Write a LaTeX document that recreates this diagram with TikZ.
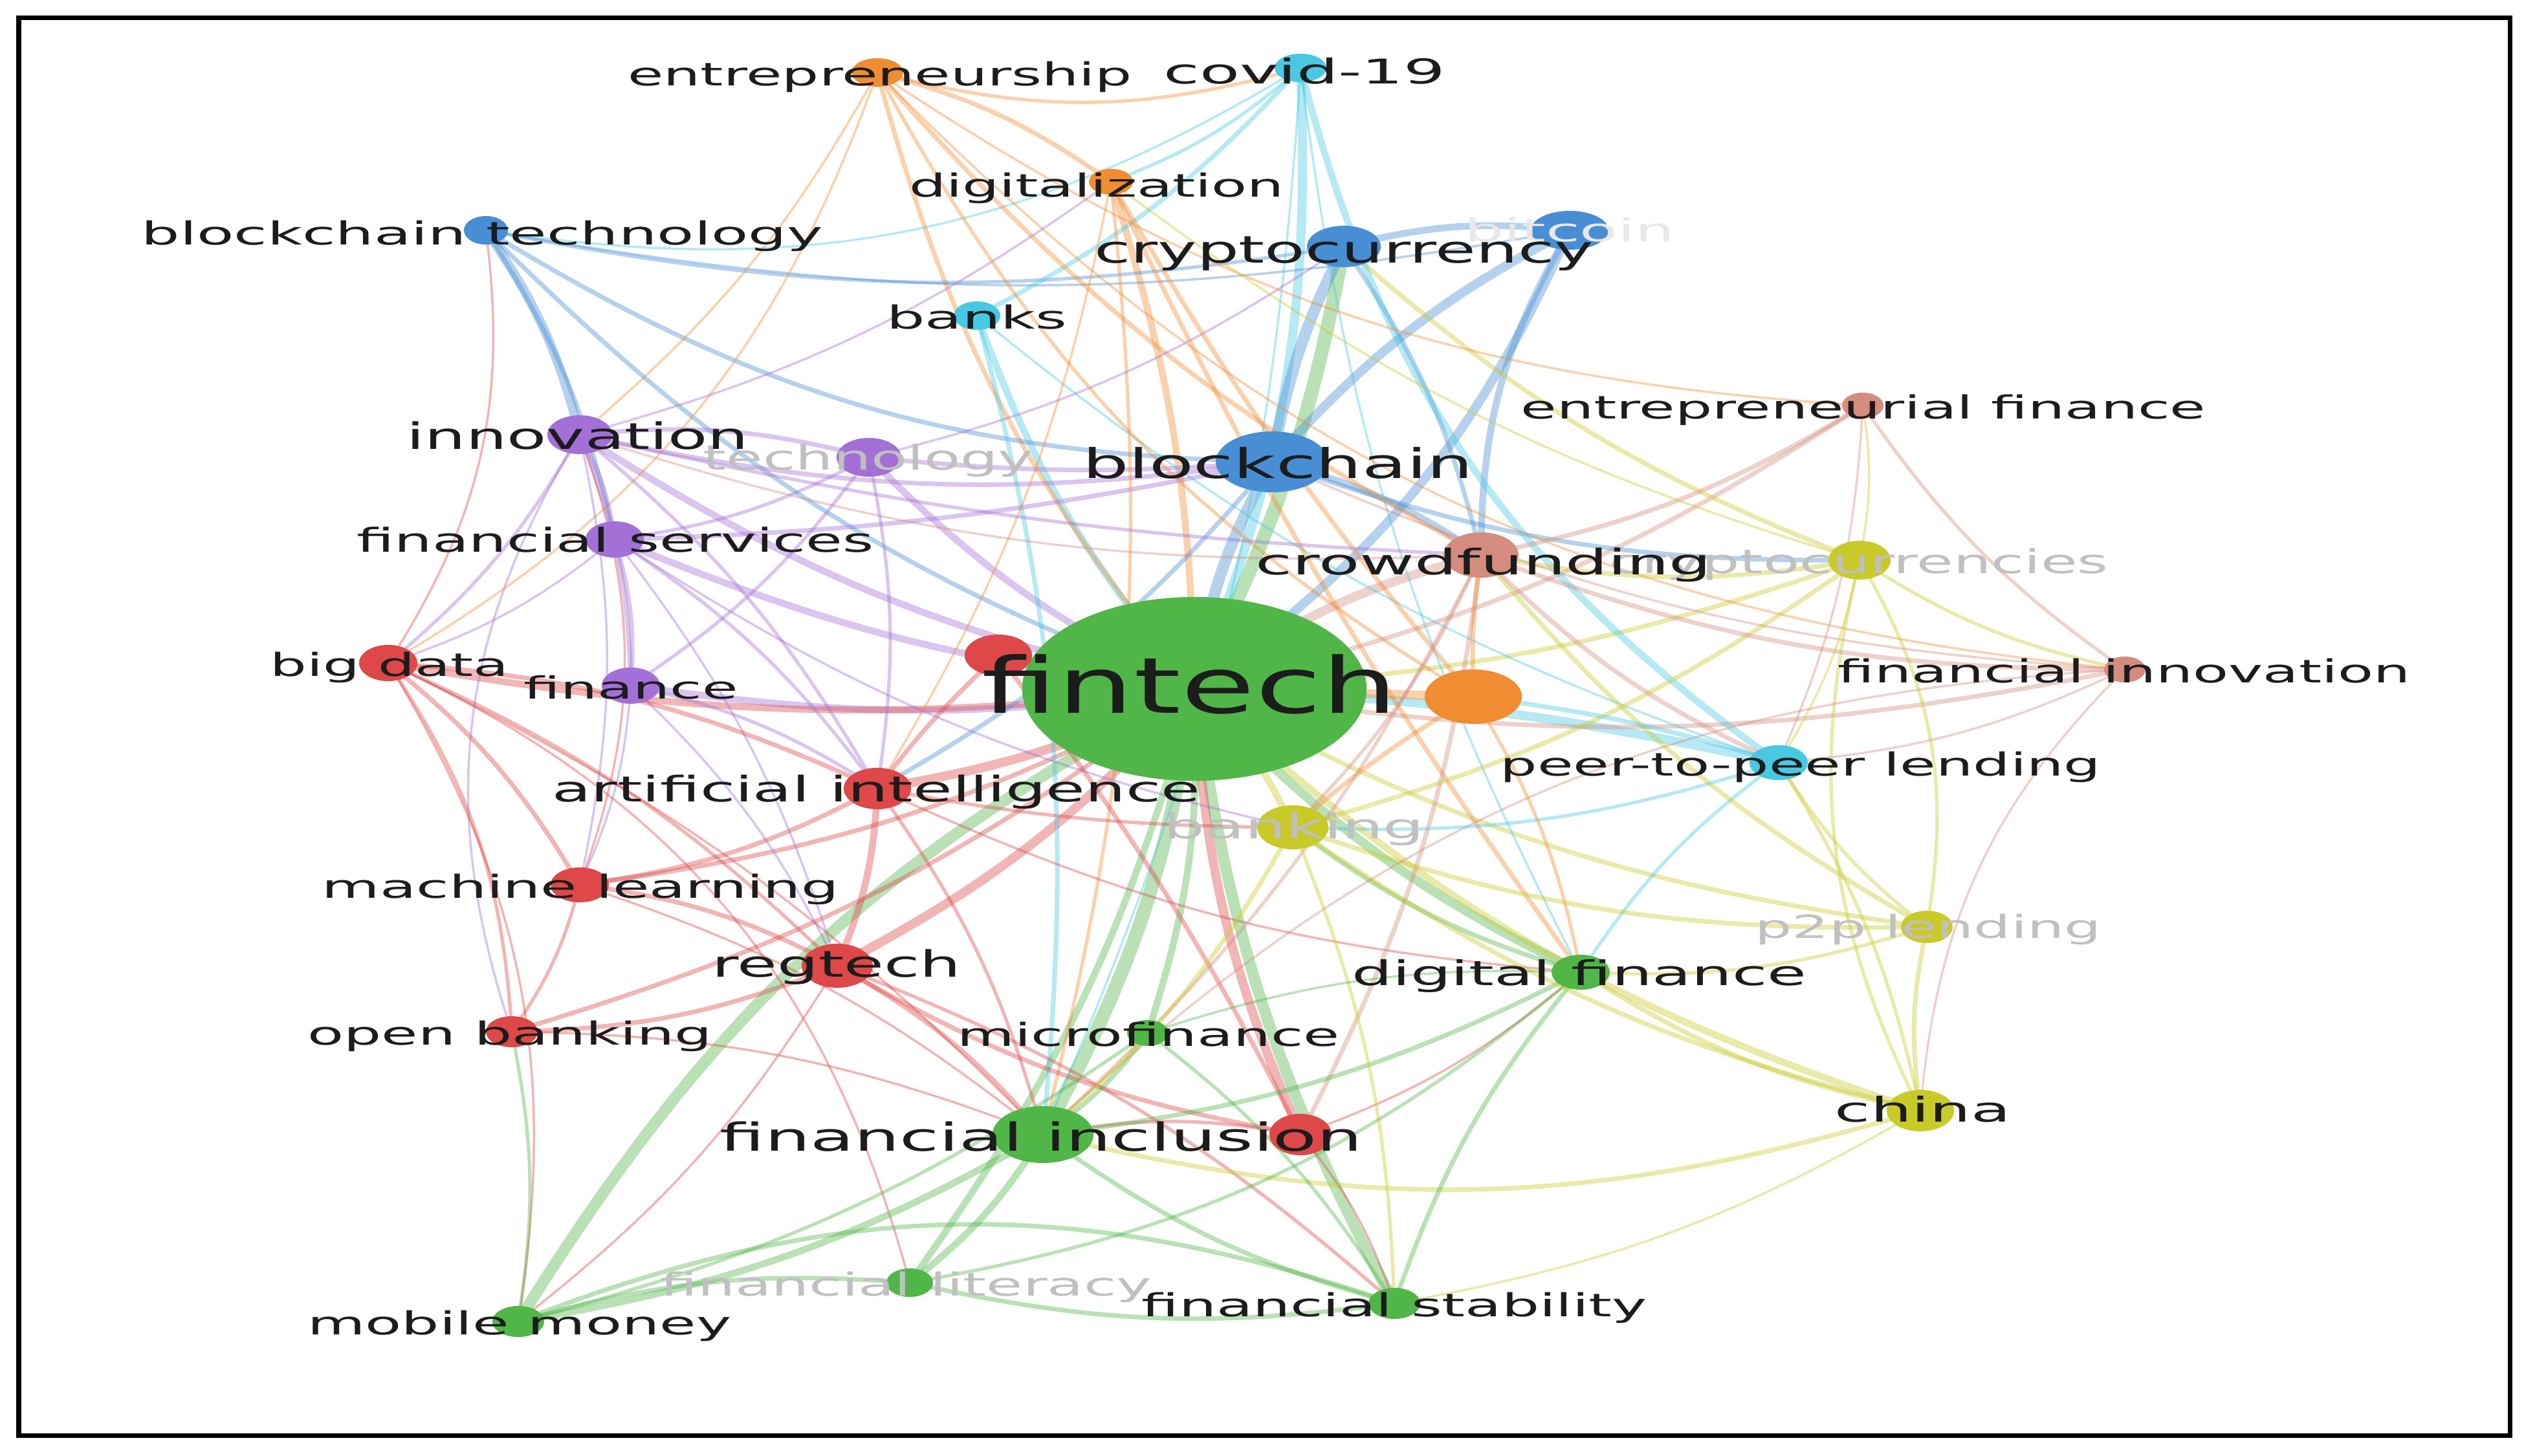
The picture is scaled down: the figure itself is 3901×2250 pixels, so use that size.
\documentclass[tikz,border=0pt]{standalone}
\usepackage{fontspec}
\setmainfont{DejaVu Sans}
\usepackage{graphicx}
\usetikzlibrary{shapes.geometric}
\definecolor{cG}{RGB}{80,182,72}
\definecolor{cR}{RGB}{222,72,72}
\definecolor{cB}{RGB}{72,142,212}
\definecolor{cY}{RGB}{200,202,40}
\definecolor{cP}{RGB}{162,112,214}
\definecolor{cC}{RGB}{72,200,226}
\definecolor{cO}{RGB}{240,140,50}
\definecolor{cS}{RGB}{212,140,126}
\definecolor{txt}{RGB}{28,28,28}
\definecolor{fade}{RGB}{192,192,192}
\definecolor{vfade}{RGB}{232,232,232}
\newcommand\lbl[3]{\resizebox{#1cm}{\height}{\fontsize{#2}{#2}\selectfont #3}}
\begin{document}
\begin{tikzpicture}[x=0.01cm,y=-0.01cm,
  nd/.style n args={3}{ellipse, fill=#1, draw=none, minimum width=#2*0.02cm, minimum height=#3*0.02cm, inner sep=0pt},
  lab/.style={anchor=base, inner sep=0pt, text=txt},
  flab/.style={anchor=base, inner sep=0pt, text=fade}]
\useasboundingbox (0,0) rectangle (3901,2250);
\fill[white] (0,0) rectangle (3901,2250);
% node centres
\coordinate (fin) at (1846,1065);
\coordinate (bc) at (1966,714);
\coordinate (cc) at (2077,381);
\coordinate (btc) at (2426,356);
\coordinate (cov) at (2010,105);
\coordinate (ent) at (1356,112);
\coordinate (dig) at (1717,281);
\coordinate (bct) at (751,356);
\coordinate (bnk) at (1510,488);
\coordinate (inn) at (896,672);
\coordinate (tec) at (1343,707);
\coordinate (ef) at (2879,627);
\coordinate (fs) at (950,834);
\coordinate (cf) at (2289,858);
\coordinate (ccs) at (2874,866);
\coordinate (bd) at (600,1025);
\coordinate (fnc) at (975,1060);
\coordinate (rA) at (1543,1013);
\coordinate (oA) at (2277,1077);
\coordinate (fi) at (3284,1035);
\coordinate (p2pl) at (2749,1179);
\coordinate (ai) at (1356,1219);
\coordinate (bkg) at (1998,1279);
\coordinate (ml) at (896,1368);
\coordinate (p2p) at (2978,1433);
\coordinate (rt) at (1294,1493);
\coordinate (df) at (2443,1503);
\coordinate (ob) at (791,1595);
\coordinate (mf) at (1774,1597);
\coordinate (chn) at (2968,1717);
\coordinate (fincl) at (1612,1754);
\coordinate (rB) at (2010,1754);
\coordinate (fl) at (1406,1983);
\coordinate (mm) at (801,2043);
\coordinate (fst) at (2155,2015);
% edges
\foreach \a/\b/\c/\w/\bb in {
 fin/bc/cB/5/10, fin/cc/cG/6/-8, fin/btc/cB/4/-15, fin/cov/cC/4/-12,
 fin/fincl/cG/6/10, fin/mm/cG/5/-15, fin/fst/cG/5/-10, fin/df/cG/4/-10,
 fin/rt/cR/4/10, fin/ai/cR/4/8, fin/chn/cY/3/-12, fin/bkg/cY/3/10,
 fin/cf/cS/4/10, fin/p2p/cY/2/-10, fin/inn/cP/3/10, fin/tec/cP/3/10,
 fin/fs/cP/3/8, fin/fnc/cP/3/8, fin/bct/cB/2/12, fin/bnk/cC/3/10,
 fin/ent/cO/2/12, fin/dig/cO/3/-8, fin/fl/cG/3/10, fin/mf/cG/3/10,
 fin/p2pl/cC/4/5, fin/ef/cS/2/-10, fin/fi/cS/2/-10, fin/ccs/cY/2/-8,
 fin/bd/cR/3/8, fin/ml/cR/2/10, fin/ob/cR/2/10, fin/rA/cR/3/0,
 fin/oA/cO/4/0, fin/rB/cR/4/-10,
 bc/cc/cB/5/8, bc/btc/cB/4/10, cc/btc/cB/3/10, bc/bct/cB/2/15,
 bct/inn/cB/4/10, bct/fs/cB/2/10, bct/cc/cB/1.5/-10, bct/btc/cB/1/-10,
 btc/cf/cB/3/-15, cc/cf/cB/2/10, bc/cf/cB/3/10, bc/ccs/cB/2/-10,
 cc/ccs/cY/2/-10, bc/inn/cP/2/10, bc/tec/cP/2/5, bc/fs/cP/2/5, bc/ai/cB/2/10,
 cov/bnk/cC/2/10, cov/p2pl/cC/3/-20, cov/ent/cO/1.5/15, cov/dig/cC/1.5/10,
 cov/bct/cC/1/20, cov/fincl/cC/1/10, cov/df/cC/1/-10, bnk/fincl/cC/2/10,
 bnk/p2pl/cC/1/-10, ent/dig/cO/2/10, ent/inn/cO/1/10, ent/cf/cO/2/-10,
 ent/ef/cO/1/-15, ent/fi/cO/1/-20, ent/bd/cO/1/20, dig/fincl/cO/1.5/10,
 dig/df/cO/2/-5, dig/oA/cO/2/-5, dig/ai/cO/1/10,
 inn/fs/cP/2/10, inn/tec/cP/2/10, inn/fnc/cP/2/10, inn/bd/cP/1.5/10,
 inn/ml/cP/1/12, inn/ai/cP/1.5/10, inn/cf/cP/1.5/-5, inn/dig/cP/1/-10,
 inn/ob/cP/1/-25,
 tec/fs/cP/1.5/10, tec/fnc/cP/1.5/10, tec/ai/cP/1.5/10, tec/cc/cP/1/-10,
 fs/fnc/cP/2/10, fs/bd/cP/1/10, fs/ai/cP/1.5/10, fs/rt/cP/1/10, fs/bkg/cP/1/-10,
 fnc/ai/cP/1.5/10, fnc/ml/cP/1/10, fnc/rt/cP/1/10,
 bd/ai/cR/2/10, bd/ml/cR/2/10, bd/rt/cR/1.5/10, bd/ob/cR/1.5/15, bd/mm/cR/1/20,
 bd/fincl/cR/1/10, bd/bct/cR/1/-20, ml/inn/cR/1/-20, bd/fl/cR/1/25,
 ai/ml/cR/2/10, ai/rt/cR/3/10, ai/rA/cR/2/5, ai/fincl/cR/1.5/10, ai/bkg/cR/1.5/-5,
 ai/df/cR/1/-10, ml/rt/cR/2/10, ml/ob/cR/1.5/10, ml/fincl/cR/1/10,
 rt/ob/cR/2/10, rt/fincl/cR/2/10, rt/rB/cR/2/-10, rt/fst/cR/1.5/10, rt/mm/cR/1/10,
 ob/fincl/cR/1/10, ob/mm/cG/1.5/10, rA/rB/cR/2/5, rB/fincl/cR/1.5/-10,
 rB/df/cR/1/-10, rB/fst/cR/1/10, cf/rB/cS/2/10,
 fincl/mm/cG/3/10, fincl/fl/cG/3/10, fincl/fst/cG/2/-10, fincl/df/cG/2/-10,
 fincl/mf/cG/2/-10, fincl/chn/cY/2/-15, mm/fl/cG/2/10, mm/fst/cG/2/20,
 mm/mf/cG/1.5/-10, fl/fst/cG/2/-10, fl/df/cG/1.5/-15, fst/df/cG/2/10,
 fst/chn/cY/1/-10, df/chn/cY/2/-10, df/p2p/cY/1.5/-10, df/bkg/cG/2/10,
 df/p2pl/cC/1.5/10, chn/p2p/cY/2/10, chn/p2pl/cY/1.5/-10, chn/ccs/cY/1.5/20,
 chn/bkg/cY/2/10, p2p/ccs/cY/1.5/-20, p2p/p2pl/cY/1.5/10, p2p/cf/cY/2/10,
 p2p/bkg/cY/2/10, ccs/cf/cY/2/10, ccs/fi/cY/1.5/-10, ccs/p2pl/cY/1/10,
 ccs/ef/cY/1/-10, ccs/bkg/cY/2/10, ccs/dig/cY/1/10,
 cf/ef/cS/2/-10, cf/fi/cS/2/-10, cf/p2pl/cS/2/-10, cf/bkg/cS/1.5/10,
 cf/fincl/cS/1.5/10, cf/inn/cS/1/10, ef/fi/cS/1.5/-10, ef/p2pl/cS/1/10,
 fi/p2pl/cS/1/10, fi/chn/cS/1/-20, fi/bc/cS/1/10, fi/fincl/cS/1/-20,
 p2pl/bkg/cC/1.5/10, p2pl/oA/cC/2/-5, bkg/fincl/cY/2/10, bkg/fst/cY/1.5/10,
 bkg/oA/cO/2/5, oA/df/cO/1.5/10, oA/cf/cO/2/5, oA/ent/cO/1.5/15,
 mf/fst/cG/1.5/10, mf/df/cG/1/10}
 \draw[draw=\c, line width=\w pt, opacity=.4, line cap=round] (\a) to[bend left=\bb] (\b);
% node discs
\node[nd={cG}{266}{142}] (fin-c) at (fin) {};
\node[nd={cB}{87}{47}] (bc-c) at (bc) {};
\node[nd={cB}{57}{32}] (cc-c) at (cc) {};
\node[nd={cB}{60}{30}] (btc-c) at (btc) {};
\node[nd={cC}{40}{22}] (cov-c) at (cov) {};
\node[nd={cO}{40}{22}] (ent-c) at (ent) {};
\node[nd={cO}{34}{20}] (dig-c) at (dig) {};
\node[nd={cB}{34}{22}] (bct-c) at (bct) {};
\node[nd={cC}{36}{22}] (bnk-c) at (bnk) {};
\node[nd={cP}{50}{30}] (inn-c) at (inn) {};
\node[nd={cP}{50}{30}] (tec-c) at (tec) {};
\node[nd={cS}{32}{20}] (ef-c) at (ef) {};
\node[nd={cP}{45}{28}] (fs-c) at (fs) {};
\node[nd={cS}{58}{35}] (cf-c) at (cf) {};
\node[nd={cY}{48}{30}] (ccs-c) at (ccs) {};
\node[nd={cR}{45}{28}] (bd-c) at (bd) {};
\node[nd={cP}{45}{28}] (fnc-c) at (fnc) {};
\node[nd={cR}{52}{32}] (rA-c) at (rA) {};
\node[nd={cO}{75}{42}] (oA-c) at (oA) {};
\node[nd={cS}{32}{20}] (fi-c) at (fi) {};
\node[nd={cC}{45}{27}] (p2pl-c) at (p2pl) {};
\node[nd={cR}{52}{32}] (ai-c) at (ai) {};
\node[nd={cY}{55}{34}] (bkg-c) at (bkg) {};
\node[nd={cR}{45}{27}] (ml-c) at (ml) {};
\node[nd={cY}{40}{25}] (p2p-c) at (p2p) {};
\node[nd={cR}{55}{34}] (rt-c) at (rt) {};
\node[nd={cG}{45}{27}] (df-c) at (df) {};
\node[nd={cR}{40}{24}] (ob-c) at (ob) {};
\node[nd={cG}{32}{20}] (mf-c) at (mf) {};
\node[nd={cY}{52}{32}] (chn-c) at (chn) {};
\node[nd={cG}{78}{44}] (fincl-c) at (fincl) {};
\node[nd={cR}{48}{32}] (rB-c) at (rB) {};
\node[nd={cG}{36}{22}] (fl-c) at (fl) {};
\node[nd={cG}{40}{24}] (mm-c) at (mm) {};
\node[nd={cG}{40}{24}] (fst-c) at (fst) {};
% faded labels
\node[flab, text=vfade] (btc-l) at (2426,373) {\lbl{3.24}{14}{bitcoin}};
\node[flab] (tec-l) at (1342,726) {\lbl{5.10}{15}{technology}};
\node[flab] (ccs-l) at (2873,886) {\lbl{7.71}{14.5}{cryptocurrencies}};
\node[flab] (bkg-l) at (2000,1296) {\lbl{4.03}{15}{banking}};
\node[flab] (p2p-l) at (2980,1450) {\lbl{5.35}{14}{p2p lending}};
\node[flab] (fl-l) at (1400,2003) {\lbl{7.59}{14}{financial literacy}};
% labels
\node[lab] (ent-l) at (1360,132) {\lbl{7.79}{14}{entrepreneurship}};
\node[lab] (cov-l) at (2016,129) {\lbl{4.35}{15}{covid-19}};
\node[lab] (dig-l) at (1695,304) {\lbl{5.79}{14}{digitalization}};
\node[lab] (bct-l) at (745,378) {\lbl{10.52}{14}{blockchain technology}};
\node[lab] (cc-l) at (2077,406) {\lbl{7.71}{16.5}{cryptocurrency}};
\node[lab] (bnk-l) at (1510,508) {\lbl{2.79}{14}{banks}};
\node[lab] (ef-l) at (2880,647) {\lbl{10.58}{14}{entrepreneurial finance}};
\node[lab] (inn-l) at (893,694) {\lbl{5.28}{16}{innovation}};
\node[lab] (bc-l) at (1975,739) {\lbl{6.03}{18}{blockchain}};
\node[lab] (fs-l) at (951,853) {\lbl{7.99}{14.5}{financial services}};
\node[lab] (cf-l) at (2293,888) {\lbl{7.04}{15.5}{crowdfunding}};
\node[lab] (bd-l) at (602,1045) {\lbl{3.68}{14}{big data}};
\node[lab] (fnc-l) at (975,1080) {\lbl{3.31}{13.5}{finance}};
\node[lab] (fin-l) at (1839,1102) {\lbl{6.42}{34}{fintech}};
\node[lab] (fi-l) at (3283,1055) {\lbl{8.84}{14}{financial innovation}};
\node[lab] (p2pl-l) at (2783,1199) {\lbl{9.28}{14}{peer-to-peer lending}};
\node[lab] (ai-l) at (1354,1239) {\lbl{10.01}{15.5}{artificial intelligence}};
\node[lab] (ml-l) at (897,1388) {\lbl{7.98}{14}{machine learning}};
\node[lab] (rt-l) at (1293,1510) {\lbl{3.85}{16}{regtech}};
\node[lab] (df-l) at (2441,1523) {\lbl{7.02}{15}{digital finance}};
\node[lab] (ob-l) at (788,1615) {\lbl{6.25}{14}{open banking}};
\node[lab] (mf-l) at (1775,1617) {\lbl{5.90}{14}{microfinance}};
\node[lab] (chn-l) at (2972,1734) {\lbl{2.72}{15}{china}};
\node[lab] (fincl-l) at (1609,1779) {\lbl{9.93}{17}{financial inclusion}};
\node[lab] (mm-l) at (803,2063) {\lbl{6.55}{14}{mobile money}};
\node[lab] (fst-l) at (2155,2035) {\lbl{7.81}{14}{financial stability}};
% frame
\draw[line width=0.07cm] (29,27) rectangle (3879,2219);
\end{tikzpicture}
\end{document}
